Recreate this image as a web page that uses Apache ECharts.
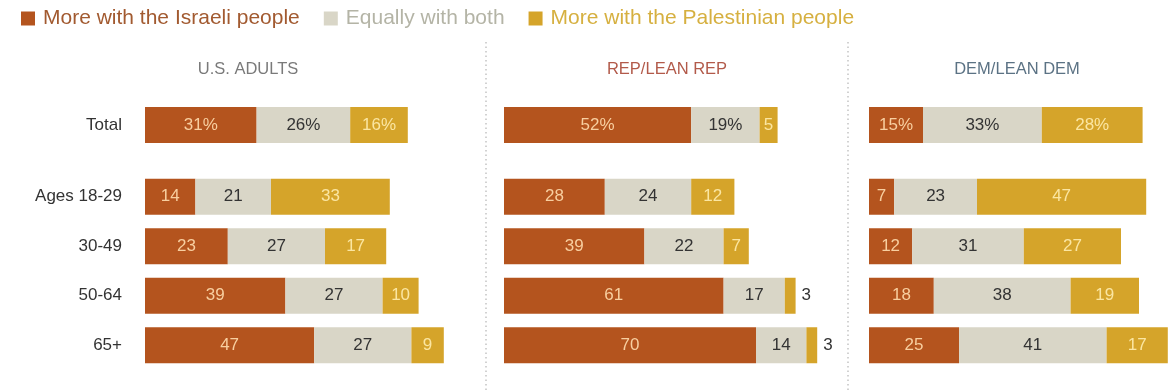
<!DOCTYPE html>
<html><head><meta charset="utf-8">
<script src="https://cdn.jsdelivr.net/npm/echarts@6/dist/echarts.min.js"></script>
<style>html,body{margin:0;padding:0;background:#fff}#c{width:1172px;height:392px}</style>
</head><body><div id="c"></div>
<script>
var categories = ['Total', 'Ages 18-29', '30-49', '50-64', '65+'];
var seriesNames = ['More with the Israeli people', 'Equally with both', 'More with the Palestinian people'];
var panelTitles = ['U.S. ADULTS', 'REP/LEAN REP', 'DEM/LEAN DEM'];
var usIsrael = [31, 14, 23, 39, 47];
var usBoth = [26, 21, 27, 27, 27];
var usPal = [16, 33, 17, 10, 9];
var repIsrael = [52, 28, 39, 61, 70];
var repBoth = [19, 24, 22, 17, 14];
var repPal = [5, 12, 7, 3, 3];
var demIsrael = [15, 7, 12, 18, 25];
var demBoth = [33, 23, 31, 38, 41];
var demPal = [28, 47, 27, 19, 17];

var panels = [[usIsrael, usBoth, usPal], [repIsrael, repBoth, repPal], [demIsrael, demBoth, demPal]];
var colors = ['#b4541e', '#d9d6c7', '#d5a42a'];
var labelColors = ['#f8cfa0', '#333333', '#fbe6a2'];
var legendTextColors = ['#a25a30', '#b4b4a6', '#d6b040'];
var titleColors = ['#7a7a7a', '#b25a4a', '#5b7284'];
var titleX = [248, 667, 1017];
var panelLeft = [145, 504, 869];
var FONT = "'Liberation Sans', Arial, sans-serif";
var GRID_W = 270, PX_PER_UNIT = 3.6;

var grids = [], xAxes = [], yAxes = [], series = [];
panels.forEach(function (vals, p) {
  [[0, 1], [1, 5]].forEach(function (range, g) {
    var gi = grids.length;
    var cats = categories.slice(range[0], range[1]);
    grids.push(g === 0 ? { left: panelLeft[p], width: GRID_W, top: 100, height: 50 }
                       : { left: panelLeft[p], width: GRID_W, top: 172, height: 198 });
    xAxes.push({ type: 'value', gridIndex: gi, min: 0, max: GRID_W / PX_PER_UNIT, show: false });
    yAxes.push({
      type: 'category', gridIndex: gi, data: cats, inverse: true,
      axisLine: { show: false }, axisTick: { show: false }, splitLine: { show: false },
      axisLabel: { show: p === 0, color: '#333', fontSize: 17, fontFamily: FONT, margin: 23 }
    });
    vals.forEach(function (arr, s) {
      series.push({
        name: seriesNames[s], type: 'bar', stack: 'g' + gi, xAxisIndex: gi, yAxisIndex: gi,
        barWidth: 36, itemStyle: { color: colors[s] }, silent: true, clip: false,
        data: arr.slice(range[0], range[1]).map(function (v, i) {
          var small = v <= 3;
          return {
            value: v,
            label: {
              show: true, position: small ? 'right' : 'inside', distance: 6,
              color: small ? '#333' : labelColors[s], fontSize: 17, fontFamily: FONT,
              formatter: (g === 0 && v >= 10) ? v + '%' : String(v)
            }
          };
        })
      });
    });
  });
});

var graphics = [];
panelTitles.forEach(function (t, p) {
  graphics.push({ type: 'text', x: titleX[p], y: 69, style: { text: t, fill: titleColors[p], font: '16.5px ' + FONT, textAlign: 'center', textVerticalAlign: 'middle' } });
});
[486, 848].forEach(function (x) {
  graphics.push({ type: 'line', shape: { x1: x, y1: 42, x2: x, y2: 392 }, style: { stroke: '#c4c4c4', lineWidth: 1.5, lineDash: [1.5, 3] } });
});

var chart = echarts.init(document.getElementById('c'));
chart.setOption({
  animation: false,
  legend: {
    left: 16, top: 3, itemWidth: 14, itemHeight: 14, itemGap: 24, icon: 'rect',
    selectedMode: false,
    data: seriesNames.map(function (n, i) { return { name: n, textStyle: { color: legendTextColors[i] } }; }),
    textStyle: { fontSize: 21, fontFamily: FONT, padding: [0, 0, 0, 3] }
  },
  grid: grids, xAxis: xAxes, yAxis: yAxes, series: series, graphic: graphics
});
</script></body></html>
